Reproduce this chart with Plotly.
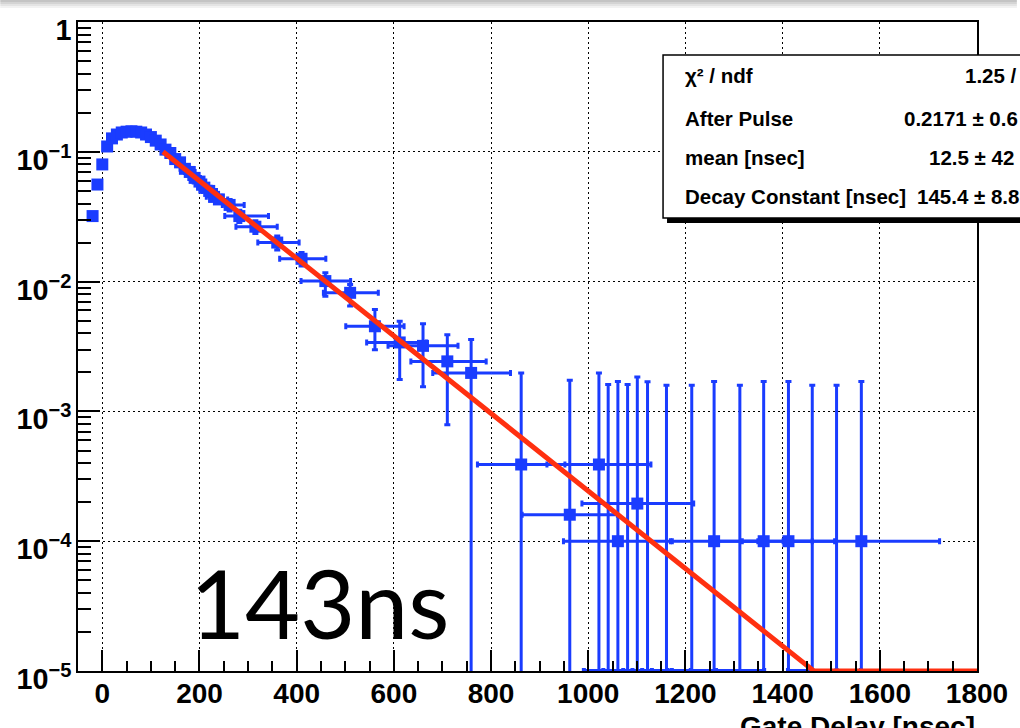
import numpy as np
import plotly.graph_objects as go

# ---------------- measured after-pulse timing ----------------
# fine 10 ns bins around the peak, then progressively wider bins
gate_delay = [-20, -10, 0, 10, 20, 30, 40, 50, 60, 70, 80, 90, 100, 110, 120,
              130, 140, 150, 160, 170, 180, 190, 200, 210, 220, 230, 240,
              262, 282, 315, 360, 410, 459, 510, 561, 612, 660, 710, 759,
              862, 962, 1022, 1061, 1101, 1259, 1361, 1412, 1562]
rate = [0.032, 0.056, 0.080, 0.110, 0.127, 0.136, 0.141, 0.143, 0.144, 0.143,
        0.141, 0.136, 0.130, 0.122, 0.114,
        0.104, 0.098, 0.088, 0.083, 0.074, 0.070, 0.063, 0.059, 0.053, 0.050,
        0.045, 0.043,
        0.039, 0.032, 0.0265, 0.020, 0.0150, 0.0101, 0.0082, 0.00453, 0.0034,
        0.0032, 0.00243, 0.00198,
        3.9e-4, 1.6e-4, 3.9e-4, 1.0e-4, 1.95e-4, 1.0e-4, 1.0e-4, 1.0e-4, 1.0e-4]
delay_err_lo = [5, 5, 5, 5, 5, 5, 5, 5, 5, 5, 5, 5, 5, 5, 5,
                6, 7, 8, 9, 10, 11, 12, 13, 14, 15, 16, 18,
                15, 30, 40, 40, 45, 50, 55, 60, 68, 72, 75, 79,
                90, 98, 107, 112, 114, 90, 100, 95, 161]
delay_err_hi = [5, 5, 5, 5, 5, 5, 5, 5, 5, 5, 5, 5, 5, 5, 5,
                6, 7, 8, 9, 10, 11, 12, 13, 14, 15, 16, 18,
                30, 60, 45, 45, 50, 52, 58, 60, 55, 72, 80, 81,
                90, 98, 107, 112, 116, 90, 100, 95, 161]
rate_err_lo = [0.0015, 0.002, 0.0025, 0.003, 0.003, 0.003, 0.003, 0.003, 0.003,
               0.003, 0.003, 0.003, 0.003, 0.003, 0.003,
               0.003, 0.003, 0.003, 0.003, 0.003, 0.003, 0.003, 0.003, 0.003,
               0.003, 0.003, 0.003,
               0.004, 0.0035, 0.003, 0.0025, 0.0018, 0.0024, 0.0017, 0.00154,
               0.00164, 0.00165, 0.00164, 0.00198,
               3.9e-4, 1.6e-4, 3.9e-4, 1.0e-4, 1.95e-4, 1.0e-4, 1.0e-4, 1.0e-4, 1.0e-4]
rate_err_hi = [0.0015, 0.002, 0.0025, 0.003, 0.003, 0.003, 0.003, 0.003, 0.003,
               0.003, 0.003, 0.003, 0.003, 0.003, 0.003,
               0.003, 0.003, 0.003, 0.003, 0.003, 0.003, 0.003, 0.003, 0.003,
               0.003, 0.003, 0.003,
               0.004, 0.0035, 0.003, 0.0025, 0.0018, 0.0016, 0.0013, 0.00157,
               0.00155, 0.00153, 0.00147, 0.0016,
               0.00159, 0.00158, 0.00159, 0.0016, 0.00165, 0.0016, 0.0016, 0.0016, 0.0016]

# bins with no entries: only the upper limit is drawn
empty_delay = [1041, 1081, 1122, 1161, 1213, 1312, 1461, 1511]
empty_upper = [1.61e-3, 1.61e-3, 1.69e-3, 1.59e-3, 1.59e-3, 1.59e-3, 1.59e-3, 1.59e-3]
empty_delay_err = [50, 50, 50, 50, 50, 50, 50, 50]

# exponential fit: After Pulse * exp(-(t - mean) / Decay Constant)
FIT_AMPLITUDE = 0.2171
FIT_MEAN = 12.5
FIT_TAU = 145.4
FIT_START, FIT_END = 125, 1800

stat_names = ["χ² / ndf", "After Pulse", "mean [nsec]", "Decay Constant [nsec]"]
stat_values = ["1.25 /", "0.2171 ± 0.6", "12.5 ± 42", "145.4 ± 8.8"]

X_RANGE = [-50, 1800]
Y_LOG_RANGE = [-5, 0.0005]
Y_FLOOR = 1e-5

BLUE = "#1a3cff"
RED = "#ff3010"
FONT = "Liberation Sans"

# ---------------- geometry helpers (pixel -> paper) ----------------
W, H = 1020, 728
ML, MR, MT, MB = 78, 40, 22, 57
PW, PH = W - ML - MR, H - MT - MB


def pxx(px):
    return (px - ML) / PW


def pxy(py):
    return (H - MB - py) / PH


fig = go.Figure()

# filled bins
fig.add_trace(go.Scatter(
    x=gate_delay, y=rate, mode="markers",
    marker=dict(symbol="square", size=12, color=BLUE, line=dict(width=0)),
    error_x=dict(type="data", symmetric=False, array=delay_err_hi,
                 arrayminus=delay_err_lo, color=BLUE, thickness=3, width=3),
    error_y=dict(type="data", symmetric=False, array=rate_err_hi,
                 arrayminus=rate_err_lo, color=BLUE, thickness=3, width=3),
    showlegend=False, hoverinfo="skip",
))

# empty bins drawn from the bottom of the axis up to their upper limit
fig.add_trace(go.Scatter(
    x=empty_delay, y=[Y_FLOOR] * len(empty_delay), mode="markers",
    marker=dict(size=1, color=BLUE, opacity=0),
    error_x=dict(type="data", array=empty_delay_err, color=BLUE, thickness=4, width=3),
    error_y=dict(type="data", symmetric=False,
                 array=[u - Y_FLOOR for u in empty_upper],
                 arrayminus=[0] * len(empty_delay), color=BLUE, thickness=3, width=3),
    showlegend=False, hoverinfo="skip",
))

# fit curve, held at the axis minimum once it falls below it
t_fit = np.linspace(FIT_START, FIT_END, 400)
f_fit = FIT_AMPLITUDE * np.exp(-(t_fit - FIT_MEAN) / FIT_TAU)
fig.add_trace(go.Scatter(
    x=t_fit, y=np.maximum(f_fit, Y_FLOOR), mode="lines",
    line=dict(color=RED, width=5), showlegend=False, hoverinfo="skip",
))

shapes = []
# soft grey band along the top edge
for i, c in enumerate(["#c4c4c4", "#d4d4d4", "#e4e4e4", "#f2f2f2"]):
    shapes.append(dict(type="rect", xref="paper", yref="paper",
                       x0=pxx(0), x1=pxx(W), y0=pxy(2 * i + 2), y1=pxy(2 * i),
                       fillcolor=c, line=dict(width=0), layer="above"))

# statistics box with drop shadow
shapes.append(dict(type="rect", xref="paper", yref="paper",
                   x0=pxx(669), x1=pxx(1060), y0=pxy(223), y1=pxy(60),
                   fillcolor="black", line=dict(width=0), layer="above"))
shapes.append(dict(type="rect", xref="paper", yref="paper",
                   x0=pxx(665), x1=pxx(1060), y0=pxy(218), y1=pxy(55),
                   fillcolor="white", line=dict(color="black", width=1.5),
                   layer="above"))

annotations = []
row_y = [76, 119, 157, 196]
value_x = [966, 905, 930, 918]
for name, val, ry, vx in zip(stat_names, stat_values, row_y, value_x):
    annotations.append(dict(
        text=name, xref="paper", yref="paper", x=pxx(685), y=pxy(ry),
        xanchor="left", yanchor="middle", showarrow=False,
        font=dict(family=FONT, size=20.5, color="black", weight="bold")))
    annotations.append(dict(
        text=val, xref="paper", yref="paper", x=pxx(vx), y=pxy(ry),
        xanchor="left", yanchor="middle", showarrow=False,
        font=dict(family=FONT, size=20.5, color="black", weight="bold")))

# decay-time label inside the frame
annotations.append(dict(
    text="143ns", xref="paper", yref="paper", x=pxx(320), y=pxy(602),
    xanchor="center", yanchor="middle", showarrow=False,
    font=dict(family="Lato", size=95, color="black")))

# x-axis title at the lower right
annotations.append(dict(
    text="Gate Delay [nsec]", xref="paper", yref="paper", x=pxx(980), y=pxy(726),
    xanchor="right", yanchor="middle", showarrow=False,
    font=dict(family=FONT, size=28, color="black", weight="bold")))

grid_dash = "2px,3px"

fig.update_layout(
    width=W, height=H, autosize=False,
    margin=dict(l=ML, r=MR, t=MT, b=MB, pad=0),
    paper_bgcolor="white", plot_bgcolor="white",
    showlegend=False,
    shapes=shapes, annotations=annotations,
    xaxis=dict(
        range=X_RANGE, tick0=0, dtick=200,
        ticks="inside", ticklen=21, tickwidth=1.5, tickcolor="black",
        minor=dict(dtick=50, ticks="inside", ticklen=10, tickwidth=1.5,
                   tickcolor="black", showgrid=False),
        showgrid=True, gridcolor="black", gridwidth=1, griddash=grid_dash,
        zeroline=False, showline=True, linecolor="black", linewidth=2, mirror=True,
        tickfont=dict(family=FONT, size=28, color="black", weight="bold"),
        ticklabelstandoff=-4,
    ),
    yaxis=dict(
        type="log", range=Y_LOG_RANGE, dtick=1, exponentformat="power",
        ticks="inside", ticklen=22, tickwidth=1.5, tickcolor="black",
        minor=dict(dtick="D1", ticks="inside", ticklen=13, tickwidth=1.5,
                   tickcolor="black", showgrid=False),
        showgrid=True, gridcolor="black", gridwidth=1, griddash=grid_dash,
        zeroline=False, showline=True, linecolor="black", linewidth=2, mirror=True,
        tickfont=dict(family=FONT, size=23, color="black", weight="bold"),
        ticklabelshift=8, ticklabeloverflow="allow",
    ),
)

fig.write_html("out.html")
